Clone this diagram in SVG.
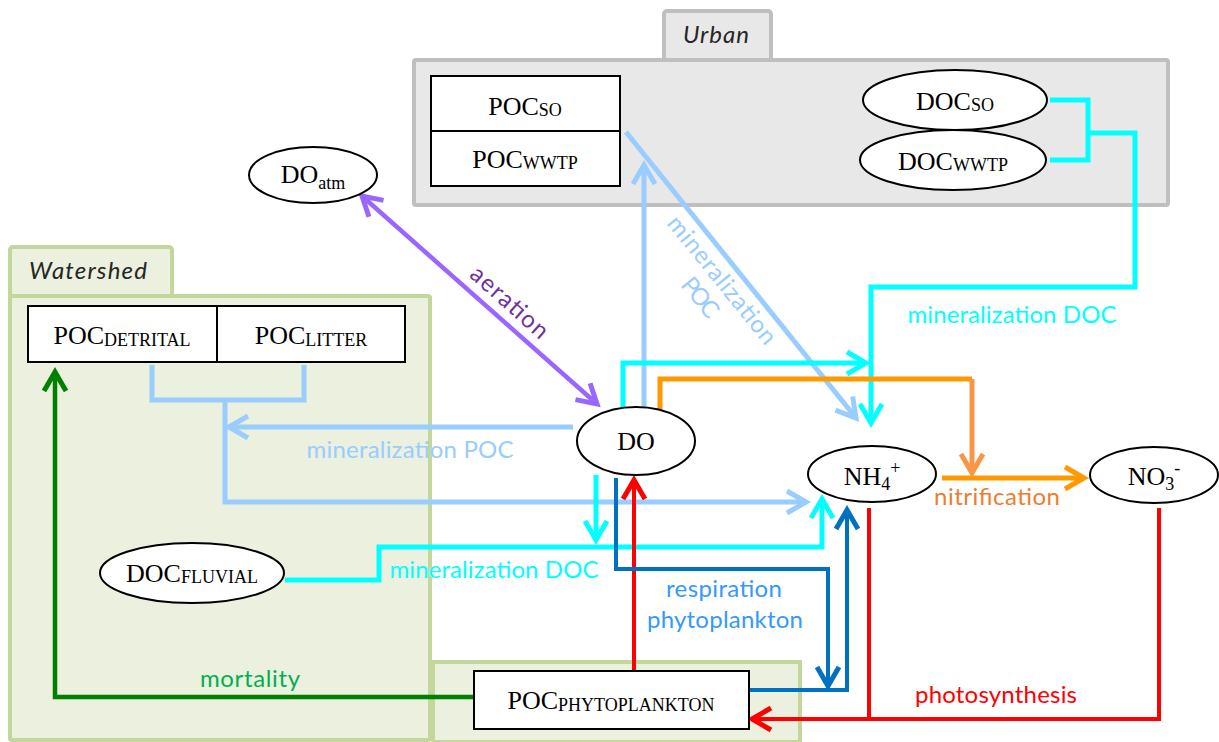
<svg xmlns="http://www.w3.org/2000/svg" width="1219" height="742" viewBox="0 0 1219 742">
<style>
.pu{fill:#e8e8e8;stroke:#bfbfbf;stroke-width:4}
.pw{fill:#ebf1de;stroke:#c3d69b;stroke-width:4}
.nd{fill:#fff;stroke:#000;stroke-width:2}
.nt{font-family:"Liberation Serif",serif;font-size:26px;fill:#000;text-anchor:middle}
.sc{font-size:18px}
.sb{font-size:18px}
.lb{font-family:Lato,"Liberation Sans",sans-serif;font-size:24px;text-anchor:middle}
.tab{font-family:Lato,"Liberation Sans",sans-serif;font-size:24px;font-style:italic;fill:#262626;text-anchor:middle}
.c{fill:none;stroke-linejoin:miter}
</style>
<defs>
<marker id="m-lb" markerUnits="userSpaceOnUse" viewBox="-25 -15 30 30" refX="0" refY="0" markerWidth="30" markerHeight="30" orient="auto" overflow="visible"><path d="M-19,-11 L0,0 L-19,11" fill="none" stroke="#99ccff" stroke-width="5"/></marker>
<marker id="m-cy" markerUnits="userSpaceOnUse" viewBox="-25 -15 30 30" refX="0" refY="0" markerWidth="30" markerHeight="30" orient="auto" overflow="visible"><path d="M-19,-11 L0,0 L-19,11" fill="none" stroke="#00ffff" stroke-width="5"/></marker>
<marker id="m-or" markerUnits="userSpaceOnUse" viewBox="-25 -15 30 30" refX="0" refY="0" markerWidth="30" markerHeight="30" orient="auto" overflow="visible"><path d="M-19,-11 L0,0 L-19,11" fill="none" stroke="#ff9900" stroke-width="5"/></marker>
<marker id="m-or2" markerUnits="userSpaceOnUse" viewBox="-25 -15 30 30" refX="0" refY="0" markerWidth="30" markerHeight="30" orient="auto" overflow="visible"><path d="M-19,-11 L0,0 L-19,11" fill="none" stroke="#f79646" stroke-width="5"/></marker>
<marker id="m-rd" markerUnits="userSpaceOnUse" viewBox="-25 -15 30 30" refX="0" refY="0" markerWidth="30" markerHeight="30" orient="auto" overflow="visible"><path d="M-19,-11 L0,0 L-19,11" fill="none" stroke="#ff0000" stroke-width="5"/></marker>
<marker id="m-db" markerUnits="userSpaceOnUse" viewBox="-25 -15 30 30" refX="0" refY="0" markerWidth="30" markerHeight="30" orient="auto" overflow="visible"><path d="M-19,-11 L0,0 L-19,11" fill="none" stroke="#0070c0" stroke-width="5"/></marker>
<marker id="m-gr" markerUnits="userSpaceOnUse" viewBox="-25 -15 30 30" refX="0" refY="0" markerWidth="30" markerHeight="30" orient="auto" overflow="visible"><path d="M-19,-11 L0,0 L-19,11" fill="none" stroke="#008000" stroke-width="5"/></marker>
<marker id="m-pu" markerUnits="userSpaceOnUse" viewBox="-25 -15 30 30" refX="0" refY="0" markerWidth="30" markerHeight="30" orient="auto-start-reverse" overflow="visible"><path d="M-19,-11 L0,0 L-19,11" fill="none" stroke="#9966ff" stroke-width="5"/></marker>
</defs>

<g id="panels">
<g id="urban">
<rect class="pu" x="664" y="11" width="107" height="50" rx="3"/>
<rect class="pu" x="414" y="60" width="754" height="145" rx="2"/>
<text class="tab" x="716" y="43" textLength="66">Urban</text>
</g>
<g id="watershed">
<rect class="pw" x="10" y="247" width="162" height="50" rx="3"/>
<rect class="pw" x="10" y="296" width="420" height="444" rx="2"/>
<text class="tab" x="88" y="279" textLength="118">Watershed</text>
</g>
<rect id="river-panel" class="pw" x="433" y="662" width="367" height="80"/>
</g>

<g id="connectors">
<g stroke="#99ccff" stroke-width="5" class="c">
<path d="M573,427 H229" marker-end="url(#m-lb)"/>
<path d="M152,365 V400 H304 V365"/>
<path d="M225,400 V502 H806" marker-end="url(#m-lb)"/>
<path d="M644,407 V165" marker-end="url(#m-lb)"/>
<path d="M626,132 L856,418" marker-end="url(#m-lb)"/>
</g>
<g stroke="#00ffff" stroke-width="5" class="c">
<path d="M1050,100 H1088 V160 H1050"/>
<path d="M1088,133 H1135 V287 H871 V423" marker-end="url(#m-cy)"/>
<path d="M623,408 V363 H866" marker-end="url(#m-cy)"/>
<path d="M596,475 V540" marker-end="url(#m-cy)"/>
<path d="M285,580 H379 V547 H822 V499" marker-end="url(#m-cy)"/>
</g>
<g stroke-width="5" class="c">
<path d="M660,410 V379 H972" stroke="#ff9900"/>
<path d="M972,379 V473" stroke="#f79646" marker-end="url(#m-or2)"/>
<path d="M942,478 H1084" stroke="#ff9900" marker-end="url(#m-or)"/>
</g>
<g stroke="#ff0000" stroke-width="4" class="c">
<path d="M634,671 V480" marker-end="url(#m-rd)"/>
<path d="M869,508 V719"/>
<path d="M1159,508 V719 H752" marker-end="url(#m-rd)"/>
</g>
<g stroke="#0070c0" stroke-width="4" class="c">
<path d="M616,478 V569 H828 V686" marker-end="url(#m-db)"/>
<path d="M749,690 H847 V510" marker-end="url(#m-db)"/>
</g>
<path d="M474,697 H55 V372" stroke="#008000" stroke-width="4.5" class="c" marker-end="url(#m-gr)"/>
<path d="M597,404 L362,196" stroke="#9966ff" stroke-width="4.5" class="c" marker-start="url(#m-pu)" marker-end="url(#m-pu)"/>
</g>

<g id="labels">
<text class="lb" fill="#7030a0" transform="translate(509,303) rotate(41.8)" y="7" textLength="96">aeration</text>
<g transform="translate(722,280) rotate(51)" fill="#99ccff">
<text class="lb" y="8" textLength="158">mineralization</text>
<text class="lb" y="36" textLength="45">POC</text>
</g>
<text class="lb" fill="#00ffff" x="1012" y="323" textLength="209">mineralization DOC</text>
<text class="lb" fill="#99ccff" x="410" y="458" textLength="207">mineralization POC</text>
<text class="lb" fill="#ed7d31" x="997" y="505" textLength="126">nitrification</text>
<text class="lb" fill="#00ffff" x="494" y="578" textLength="209">mineralization DOC</text>
<text class="lb" fill="#3399ff" x="724" y="597" textLength="116">respiration</text>
<text class="lb" fill="#3399ff" x="725" y="628" textLength="156">phytoplankton</text>
<text class="lb" fill="#00b050" x="250" y="687" textLength="100">mortality</text>
<text class="lb" fill="#ff0000" x="996" y="703" textLength="162">photosynthesis</text>
</g>

<g id="node-poc-urban">
<rect class="nd" x="431" y="76" width="189" height="110"/>
<line x1="431" y1="131" x2="620" y2="131" stroke="#000" stroke-width="2"/>
<text class="nt" x="525" y="115">POC<tspan class="sc" dy="1">SO</tspan></text>
<text class="nt" x="525" y="168">POC<tspan class="sc" dy="1">WWTP</tspan></text>
</g>
<g id="node-doc-so">
<ellipse class="nd" cx="955" cy="100" rx="92" ry="30"/>
<text class="nt" x="955" y="110">DOC<tspan class="sc" dy="1">SO</tspan></text>
</g>
<g id="node-doc-wwtp">
<ellipse class="nd" cx="953" cy="160" rx="93" ry="30"/>
<text class="nt" x="953" y="170">DOC<tspan class="sc" dy="1">WWTP</tspan></text>
</g>
<g id="node-do-atm">
<ellipse class="nd" cx="313" cy="175" rx="64" ry="28"/>
<text class="nt" x="313" y="183">DO<tspan class="sb" dy="6">atm</tspan></text>
</g>
<g id="node-poc-watershed">
<rect class="nd" x="28" y="306" width="377" height="56"/>
<line x1="217" y1="306" x2="217" y2="362" stroke="#000" stroke-width="2"/>
<text class="nt" x="122" y="344">POC<tspan class="sc" dy="2">DETRITAL</tspan></text>
<text class="nt" x="311" y="344">POC<tspan class="sc" dy="2">LITTER</tspan></text>
</g>
<g id="node-do">
<ellipse class="nd" cx="636" cy="441" rx="59" ry="34" stroke-width="3.5"/>
<text class="nt" x="636" y="450" font-size="27">DO</text>
</g>
<g id="node-nh4">
<ellipse class="nd" cx="872" cy="474" rx="64" ry="28"/>
<text class="nt" x="872" y="485">NH<tspan class="sb" dy="5">4</tspan><tspan class="sb" dy="-16">+</tspan></text>
</g>
<g id="node-no3">
<ellipse class="nd" cx="1154" cy="475" rx="64" ry="28"/>
<text class="nt" x="1154" y="485">NO<tspan class="sb" dy="5">3</tspan><tspan class="sb" dy="-16">-</tspan></text>
</g>
<g id="node-doc-fluvial">
<ellipse class="nd" cx="192" cy="573" rx="92" ry="30"/>
<text class="nt" x="192" y="582">DOC<tspan class="sc" dy="1">FLUVIAL</tspan></text>
</g>
<g id="node-poc-phyto">
<rect class="nd" x="474" y="671" width="275" height="58"/>
<text class="nt" x="611" y="709">POC<tspan class="sc" dy="2">PHYTOPLANKTON</tspan></text>
</g>
</svg>
